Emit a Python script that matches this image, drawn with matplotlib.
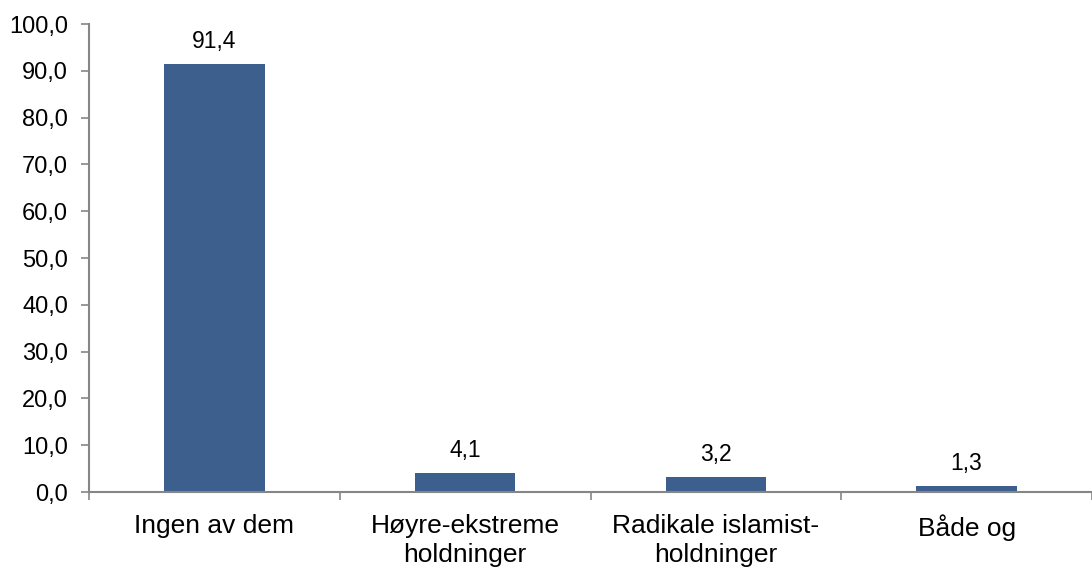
import numpy as np
import matplotlib.pyplot as plt

plt.rcParams['font.family'] = ['Liberation Sans', 'DejaVu Sans']

categories = ['Ingen av dem', 'Høyre-ekstreme\nholdninger',
              'Radikale islamist-\nholdninger', 'Både og']
values = [91.4, 4.1, 3.2, 1.3]
yticks = [0, 10, 20, 30, 40, 50, 60, 70, 80, 90, 100]

fig = plt.figure(figsize=(10.92, 5.67), dpi=100)
ax = fig.add_axes([89/1092, 75/567, 1003/1092, 468/567])

x = np.arange(len(categories))
ax.bar(x, values, width=0.4, color='#3D5F8E')

for xi, v in zip(x, values):
    ax.annotate(f'{v:.1f}'.replace('.', ','), (xi, v), xytext=(0, 8),
                textcoords='offset points', ha='center', va='bottom',
                fontsize=16.5)

ax.set_xlim(-0.5, len(categories) - 0.5)
ax.set_ylim(0, 100)
ax.set_yticks(yticks)
ax.set_yticklabels([f'{t:.1f}'.replace('.', ',') for t in yticks], fontsize=17)

ax.set_xticks(x)
ax.set_xticklabels(categories, fontsize=19, linespacing=1.25)
ax.tick_params(axis='x', which='major', length=0, pad=16)
ax.set_xticks(np.arange(-0.5, len(categories)), minor=True)
ax.tick_params(axis='x', which='minor', length=6, width=1.2, color='#868686')
ax.tick_params(axis='y', length=6, width=1.2, color='#868686', pad=9)

for s in ['top', 'right']:
    ax.spines[s].set_visible(False)
for s in ['left', 'bottom']:
    ax.spines[s].set_color('#868686')
    ax.spines[s].set_linewidth(1.5)

fig.savefig('out.png', dpi=100)
